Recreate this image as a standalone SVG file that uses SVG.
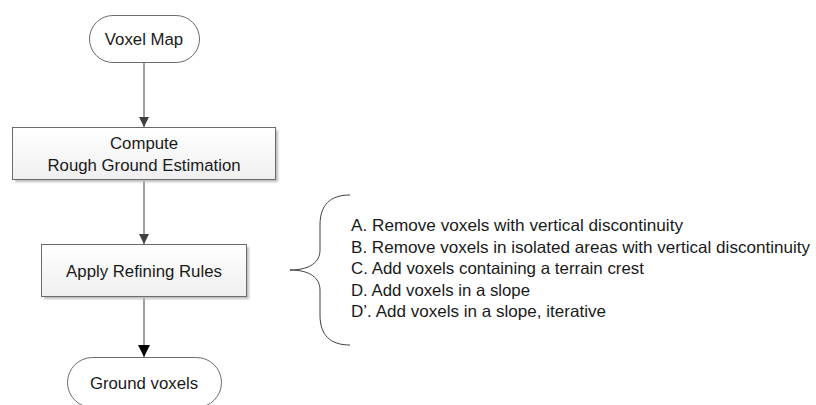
<svg xmlns="http://www.w3.org/2000/svg" width="816" height="405" viewBox="0 0 816 405">
  <defs>
    <linearGradient id="boxFill" x1="0" y1="0" x2="0" y2="1">
      <stop offset="0" stop-color="#ffffff"/>
      <stop offset="1" stop-color="#efefef"/>
    </linearGradient>
    <filter id="softShadow" x="-10%" y="-20%" width="120%" height="140%">
      <feGaussianBlur stdDeviation="1.2"/>
    </filter>
    <marker id="arrowGrey" viewBox="0 0 10 10" refX="10" refY="5" markerWidth="11" markerHeight="10" markerUnits="userSpaceOnUse" orient="auto">
      <path d="M0,0 L10,5 L0,10 z" fill="#404040"/>
    </marker>
    <marker id="arrowBlack" viewBox="0 0 10 10" refX="10" refY="5" markerWidth="14" markerHeight="12" markerUnits="userSpaceOnUse" orient="auto">
      <path d="M0,0 L10,5 L0,10 z" fill="#000000"/>
    </marker>
  </defs>
  <style>
    .label { font-family: "Liberation Sans", Arial, sans-serif; font-size: 16.8px; fill: #1a1a1a; text-anchor: middle; dominant-baseline: central; }
    .rule { font-family: "Liberation Sans", Arial, sans-serif; font-size: 16.5px; fill: #1a1a1a; dominant-baseline: central; }
    .term { fill: #ffffff; stroke: #6b6b6b; stroke-width: 1; }
    .box { fill: url(#boxFill); stroke: #6b6b6b; stroke-width: 1; }
    .shadow { fill: #bdbdbd; filter: url(#softShadow); }
    .edge { stroke: #404040; stroke-width: 1; fill: none; }
  </style>
  <rect width="816" height="405" fill="#ffffff"/>

  <g id="connectors">
    <line class="edge" x1="144" y1="63" x2="144" y2="127" marker-end="url(#arrowGrey)"/>
    <line class="edge" x1="144" y1="180" x2="144" y2="244" marker-end="url(#arrowGrey)"/>
    <line class="edge" x1="144" y1="297" x2="144" y2="357" stroke="#000" marker-end="url(#arrowBlack)"/>
  </g>

  <g id="voxel-map">
    <rect class="term" x="89.5" y="15.5" width="110" height="47" rx="23.5" ry="23.5"/>
    <text class="label" x="144" y="39">Voxel Map</text>
  </g>

  <g id="rough-ground">
    <rect class="shadow" x="15" y="130" width="263" height="52"/>
    <rect class="box" x="12.5" y="127.5" width="263" height="52"/>
    <text class="label" x="144" y="143">Compute</text>
    <text class="label" x="144" y="165">Rough Ground Estimation</text>
  </g>

  <g id="refining-rules">
    <rect class="shadow" x="44" y="247" width="205" height="52"/>
    <rect class="box" x="41.5" y="244.5" width="205" height="52"/>
    <text class="label" x="144" y="271">Apply Refining Rules</text>
  </g>

  <g id="ground-voxels">
    <rect class="term" x="67.5" y="357.5" width="154" height="50" rx="25" ry="25"/>
    <text class="label" x="144" y="383">Ground voxels</text>
  </g>

  <g id="rules">
    <path class="edge" stroke="#555" d="M350,195 C330,195 320,205 320,225 L320,250 C320,262 310,270 290,270 C310,270 320,278 320,290 L320,315 C320,335 330,345 350,345"/>
    <text class="rule" x="351" y="225" textLength="332" lengthAdjust="spacingAndGlyphs">A. Remove voxels with vertical discontinuity</text>
    <text class="rule" x="351" y="247" textLength="459" lengthAdjust="spacingAndGlyphs">B. Remove voxels in isolated areas with vertical discontinuity</text>
    <text class="rule" x="351" y="268" textLength="293" lengthAdjust="spacingAndGlyphs">C. Add voxels containing a terrain crest</text>
    <text class="rule" x="351" y="290" textLength="179" lengthAdjust="spacingAndGlyphs">D. Add voxels in a slope</text>
    <text class="rule" x="351" y="311" textLength="255" lengthAdjust="spacingAndGlyphs">D’. Add voxels in a slope, iterative</text>
  </g>
</svg>
